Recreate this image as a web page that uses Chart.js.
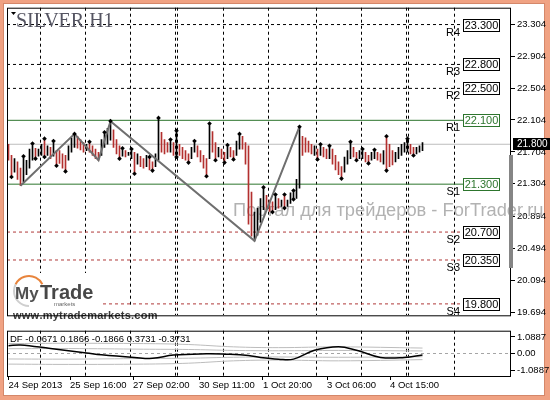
<!DOCTYPE html>
<html>
<head>
<meta charset="utf-8">
<script src="https://cdn.jsdelivr.net/npm/chart.js@4.4.1/dist/chart.umd.min.js"></script>
<style>
  html, body { margin: 0; padding: 0; }
  body { width: 550px; height: 400px; background: #f0a283; position: relative; overflow: hidden; }
  #frame { position: absolute; left: 4px; top: 4px; width: 540px; height: 391px; background: #fff; box-shadow: 0 0 0 1px #d4876a; }
  #main { position: absolute; left: 0; top: 0; }
  #osc { position: absolute; left: 0; top: 323px; }
</style>
</head>
<body>
<div id="frame"></div>
<canvas id="main" width="550" height="323"></canvas>
<canvas id="osc" width="550" height="72"></canvas>
<script>
// H1 bars, one entry per bar (high / low / 1 = up bar, 0 = down bar)
let highs = [21.80,21.66,21.62,21.58,21.50,21.65,21.60,21.74,21.81,21.75,
  21.74,21.80,21.87,21.78,21.76,21.84,21.72,21.72,21.68,21.66,
  21.78,21.88,21.93,21.90,21.86,21.82,21.80,21.83,21.78,21.74,
  21.70,21.86,21.95,22.00,22.09,21.98,21.86,21.78,21.75,21.72,
  21.70,21.74,21.70,21.68,21.65,21.62,21.66,21.64,21.58,21.68,
  22.13,21.95,21.86,21.82,21.86,21.82,21.97,21.80,21.76,21.72,
  21.68,21.76,21.84,21.78,21.72,21.66,21.62,22.06,21.96,21.82,
  21.76,21.74,21.70,21.79,21.76,21.72,21.84,21.93,21.90,21.82,
  21.78,21.20,20.95,21.00,21.12,21.26,21.16,21.10,21.08,21.17,
  21.12,21.10,21.17,21.10,21.19,21.22,21.36,22.02,21.90,21.88,
  21.84,21.80,21.78,21.74,21.80,21.76,21.74,21.78,21.74,21.66,
  21.58,21.52,21.64,21.72,21.83,21.76,21.70,21.72,21.74,21.70,
  21.66,21.70,21.73,21.70,21.68,21.72,21.90,21.80,21.72,21.70,
  21.76,21.80,21.82,21.87,21.80,21.76,21.76,21.78,21.82];
let lows = [21.60,21.39,21.45,21.36,21.28,21.33,21.42,21.50,21.60,21.62,
  21.65,21.66,21.64,21.66,21.62,21.65,21.53,21.56,21.50,21.46,
  21.60,21.70,21.76,21.75,21.73,21.70,21.72,21.70,21.66,21.62,
  21.60,21.66,21.76,21.80,21.85,21.76,21.68,21.62,21.65,21.64,
  21.66,21.62,21.43,21.55,21.52,21.50,21.52,21.48,21.47,21.52,
  21.60,21.70,21.68,21.70,21.70,21.66,21.64,21.66,21.62,21.60,
  21.57,21.62,21.70,21.64,21.58,21.50,21.40,21.62,21.70,21.60,
  21.64,21.62,21.57,21.62,21.64,21.61,21.66,21.74,21.74,21.55,
  20.80,20.65,20.59,20.66,20.82,20.98,20.98,20.96,20.95,20.98,
  21.00,21.02,21.00,21.02,21.06,21.11,21.12,21.25,21.66,21.70,
  21.70,21.68,21.66,21.61,21.66,21.64,21.62,21.62,21.55,21.48,
  21.42,21.37,21.45,21.55,21.62,21.64,21.60,21.62,21.62,21.58,
  21.56,21.60,21.62,21.60,21.58,21.55,21.47,21.52,21.54,21.58,
  21.62,21.66,21.70,21.70,21.68,21.66,21.68,21.70,21.72];
let dirs = [0,0,1,0,0,1,1,1,1,0, 1,1,0,1,0,1,0,0,0,0, 1,1,1,0,0,0,1,0,0,0,
  0,1,1,1,1,0,0,0,1,0, 1,1,0,1,0,0,1,0,0,1, 1,0,0,0,1,0,1,0,0,0,
  0,1,1,0,0,0,0,1,0,0, 1,0,0,1,0,0,1,1,0,0, 0,0,1,1,1,1,0,0,0,1,
  0,1,0,1,1,1,1,1,0,0, 0,0,1,0,1,0,0,1,0,0, 0,0,1,1,1,0,0,1,1,0,
  0,1,1,0,0,1,0,0,0,1, 1,1,1,1,0,0,1,1,1];

// fractals (bar numbers) and zigzag turning points
let fracUp = [5,8,12,15,22,27,32,34,38,41,47,50,54,56,62,67,73,77,85,89,92,95,97,104,107,114,118,122,126,133];
let fracDn = [1,9,12,16,19,37,42,48,56,60,66,69,72,75,88,92,95,103,111,116,120,126,135];
let zzIdx = [4,22,30,34,82,97];
let zzHigh = [0,1,0,1,0,1];

// pivot levels
let levelNames = ['R4','R3','R2','R1','S1','S2','S3','S4'];
let levelValues = [23.3, 22.8, 22.5, 22.1, 21.3, 20.7, 20.35, 19.8];
let lastPrice = 21.8;

// axis ticks
let priceTicks = [23.304, 22.904, 22.504, 22.104, 21.704, 21.304, 20.894, 20.494, 20.094, 19.694];
let timeLabels = ['24 Sep 2013','25 Sep 16:00','27 Sep 02:00','30 Sep 11:00','1 Oct 20:00','3 Oct 06:00','4 Oct 15:00'];
let timeTicks = [0, 20.5, 41.5, 63.5, 84.83, 106.17, 127.17];
let gridTicks = [10.5, 25.83, 40.83, 55.5, 56.17, 71.5, 86.83, 102.5, 117.83, 132.5, 133.17, 148.83];
let oscTicks = [1.0887, 0, -1.0887];

// DF oscillator and its bands
let dfIdx = [0,4,14,26,31,42,48,55,66,72,80,84,90,95,102,110,116,124,132,138];
let dfVal = [0.52,0.57,0.34,0.06,-0.06,-0.23,-0.29,-0.08,0.0,-0.02,-0.10,-0.23,-0.34,-0.34,0.23,0.46,0.23,-0.23,-0.23,-0.0671];
let bandIdx = [0,20,45,60,75,90,110,138];
let bandOuter = [0.66,0.68,0.66,0.60,0.45,0.40,0.45,0.3731];
let bandInner = [0.33,0.34,0.30,0.28,0.22,0.20,0.22,0.1866];

let xMin = -0.5, xMax = 167.5;
let levelEnd = 151.5;
let font = '"Liberation Sans", Arial, sans-serif';
let watermark = 'Портал для трейдеров - ForTrader.ru';

function levelStyle(name) {
  if (name == 'R1' || name == 'S1') return { color: '#2d752d', dash: [] };
  if (name[0] == 'R') return { color: '#000000', dash: [3, 3] };
  return { color: '#b03a3a', dash: [3, 3] };
}

let levelSets = levelNames.map((name, k) => {
  let st = levelStyle(name);
  return {
    type: 'line', order: 4,
    data: [{ x: xMin, y: levelValues[k] }, { x: levelEnd, y: levelValues[k] }],
    borderColor: st.color, borderDash: st.dash, borderWidth: 1, pointRadius: 0
  };
});

let decorMain = {
  id: 'decorMain',
  beforeDatasetsDraw(chart) {
    let ctx = chart.ctx;
    ctx.save();
    ctx.font = '20px ' + font;
    let size = 20 * 311 / ctx.measureText(watermark).width;
    ctx.font = size.toFixed(1) + 'px ' + font;
    ctx.fillStyle = '#b2b2b2';
    ctx.fillText(watermark, 233, 216);
    ctx.restore();
  },
  afterDatasetsDraw(chart) {
    let ctx = chart.ctx;
    let ys = chart.scales.y, xs = chart.scales.x;
    ctx.save();
    // level boxes and names
    let bx = Math.round(xs.getPixelForValue(levelEnd));
    levelNames.forEach((name, k) => {
      let y = Math.round(ys.getPixelForValue(levelValues[k]));
      let col = (name == 'R1' || name == 'S1') ? '#2d752d' : '#000';
      ctx.fillStyle = '#fff';
      ctx.fillRect(bx, y - 5, 36, 11);
      ctx.strokeStyle = col;
      ctx.lineWidth = 1;
      ctx.strokeRect(bx + 0.5, y - 5.5, 36, 12);
      ctx.font = '11px ' + font;
      ctx.fillStyle = col;
      ctx.textAlign = 'center';
      ctx.textBaseline = 'middle';
      ctx.fillText(levelValues[k].toFixed(3), bx + 18.5, y + 0.5);
      ctx.fillStyle = '#000';
      ctx.textAlign = 'right';
      ctx.textBaseline = 'top';
      ctx.fillText(name, bx - 3, y + 2);
    });
    // logo
    ctx.fillStyle = '#fff';
    ctx.fillRect(8, 273, 94, 35);
    ctx.fillRect(8, 307, 152, 14);
    ctx.lineWidth = 2;
    ctx.strokeStyle = '#cfcfcf';
    ctx.beginPath(); ctx.arc(29, 291, 15, 0.5 * Math.PI, 1.15 * Math.PI); ctx.stroke();
    ctx.strokeStyle = '#e8843c';
    ctx.beginPath(); ctx.arc(29, 291, 15, 1.15 * Math.PI, 1.85 * Math.PI); ctx.stroke();
    ctx.textAlign = 'left';
    ctx.textBaseline = 'alphabetic';
    ctx.fillStyle = '#505050';
    ctx.font = 'bold 17px ' + font;
    ctx.fillText('My', 15, 299);
    ctx.font = 'bold 20px ' + font;
    ctx.fillStyle = '#474747';
    ctx.fillText('Trade', 40, 299);
    ctx.font = '6px ' + font;
    ctx.fillStyle = '#666';
    ctx.fillText('markets', 54, 306);
    ctx.font = 'bold 11px ' + font;
    ctx.fillStyle = '#3a3a3a';
    let url = 'www.mytrademarkets.com';
    let extra = (144 - ctx.measureText(url).width) / (url.length - 1);
    let px = 13;
    for (let ch of url) {
      ctx.fillText(ch, px, 319);
      px += ctx.measureText(ch).width + extra;
    }
    ctx.restore();
  },
  afterDraw(chart) {
    let ctx = chart.ctx;
    let a = chart.chartArea;
    let ys = chart.scales.y;
    ctx.save();
    ctx.strokeStyle = '#000';
    ctx.lineWidth = 1;
    ctx.strokeRect(a.left + 0.5, a.top + 0.5, a.right - a.left - 1, a.bottom - a.top);
    // grey bar on the right edge
    ctx.fillStyle = '#858585';
    ctx.fillRect(a.right - 2, 155, 4, 113);
    // last price box
    let py = Math.round(ys.getPixelForValue(lastPrice));
    ctx.fillStyle = '#000';
    ctx.fillRect(a.right + 2, py - 6, 37, 12);
    ctx.fillStyle = '#fff';
    ctx.font = '10px ' + font;
    ctx.textAlign = 'left';
    ctx.textBaseline = 'middle';
    ctx.fillText(lastPrice.toFixed(3), a.right + 6, py + 0.5);
    // title
    ctx.fillStyle = '#000';
    ctx.beginPath(); ctx.moveTo(11, 12); ctx.lineTo(16, 12); ctx.lineTo(13.5, 15); ctx.fill();
    ctx.fillStyle = '#555562';
    ctx.font = '20px "Liberation Serif", serif';
    ctx.textBaseline = 'alphabetic';
    ctx.fillText('SILVER H1', 16, 27);
    ctx.restore();
  }
};

new Chart(document.getElementById('main'), {
  type: 'bar',
  data: {
    datasets: [
      {
        type: 'scatter', order: 0,
        data: fracUp.map(i => ({ x: i, y: highs[i] })).concat(fracDn.map(i => ({ x: i, y: lows[i] }))),
        pointStyle: 'rectRot', pointRadius: 2.3, backgroundColor: '#000', borderWidth: 0
      },
      {
        type: 'line', order: 1,
        data: zzIdx.map((i, k) => ({ x: i, y: zzHigh[k] ? highs[i] : lows[i] })),
        borderColor: '#6f6f6f', borderWidth: 2, pointRadius: 0
      },
      {
        type: 'bar', order: 2,
        data: highs.map((h, i) => ({ x: i, y: [lows[i], h] })),
        backgroundColor: dirs.map(d => d ? '#000000' : '#b3302f'),
        barThickness: 1, borderWidth: 0, grouped: false
      },
      {
        type: 'line', order: 3,
        data: [{ x: xMin, y: lastPrice }, { x: xMax, y: lastPrice }],
        borderColor: '#bdbdbd', borderWidth: 1, pointRadius: 0
      },
      ...levelSets
    ]
  },
  options: {
    responsive: false,
    animation: false,
    layout: { padding: { left: 7, top: 6, right: 0, bottom: 1 } },
    plugins: { legend: { display: false }, tooltip: { enabled: false } },
    scales: {
      x: {
        type: 'linear', min: xMin, max: xMax, offset: false,
        afterBuildTicks: s => { s.ticks = gridTicks.map(v => ({ value: v })); },
        afterFit: s => { s.height = 0; },
        ticks: { display: false },
        grid: { color: '#000', drawTicks: false, offset: false },
        border: { display: false, dash: [3, 3] }
      },
      y: {
        position: 'right',
        min: 19.657, max: 23.511,
        afterBuildTicks: s => { s.ticks = priceTicks.map(v => ({ value: v })); },
        afterFit: s => { s.width = 39; },
        ticks: { callback: v => v.toFixed(3), color: '#000', font: { family: font, size: 9.5 }, padding: 2 },
        grid: { drawOnChartArea: false, tickLength: 4, color: '#000' },
        border: { display: false }
      }
    }
  },
  plugins: [decorMain]
});

let decorOsc = {
  id: 'decorOsc',
  afterDraw(chart) {
    let ctx = chart.ctx;
    let a = chart.chartArea;
    ctx.save();
    ctx.strokeStyle = '#000';
    ctx.lineWidth = 1;
    ctx.strokeRect(a.left + 0.5, a.top + 0.5, a.right - a.left - 1, a.bottom - a.top - 1);
    let n = bandIdx.length - 1;
    let vals = [dfVal[dfVal.length - 1], bandInner[n], -bandInner[n], bandOuter[n], -bandOuter[n]];
    ctx.fillStyle = '#000';
    ctx.font = '9.5px ' + font;
    ctx.textBaseline = 'middle';
    ctx.fillText('DF ' + vals.map(v => v.toFixed(4)).join(' '), 10, a.top + 9);
    ctx.restore();
  }
};

function band(vals, sign) {
  return {
    data: bandIdx.map((x, k) => ({ x: x, y: sign * vals[k] })),
    borderColor: '#bcbcbc', borderWidth: 1, tension: 0.4, pointRadius: 0, order: 1
  };
}

new Chart(document.getElementById('osc'), {
  type: 'line',
  data: {
    datasets: [
      {
        data: dfIdx.map((x, k) => ({ x: x, y: dfVal[k] })),
        borderColor: '#000', borderWidth: 1.5, tension: 0.4, pointRadius: 0, order: 0
      },
      band(bandOuter, 1), band(bandInner, 1), band(bandInner, -1), band(bandOuter, -1)
    ]
  },
  options: {
    responsive: false,
    animation: false,
    layout: { padding: { left: 7, top: 2, right: 0, bottom: 0 } },
    plugins: { legend: { display: false }, tooltip: { enabled: false } },
    scales: {
      xg: {
        type: 'linear', position: 'bottom', min: xMin, max: xMax,
        afterBuildTicks: s => { s.ticks = gridTicks.map(v => ({ value: v })); },
        afterFit: s => { s.height = 0; },
        ticks: { display: false },
        grid: { color: '#000', drawTicks: false },
        border: { display: false, dash: [3, 3] }
      },
      x: {
        type: 'linear', position: 'bottom', min: xMin, max: xMax,
        afterBuildTicks: s => { s.ticks = timeTicks.map(v => ({ value: v })); },
        afterFit: s => { s.height = 18; },
        ticks: {
          callback: (v, i) => timeLabels[i], align: 'start', maxRotation: 0, autoSkip: false,
          color: '#000', font: { family: font, size: 9.5 }, padding: 0
        },
        grid: { drawOnChartArea: false, tickLength: 3, color: '#000' },
        border: { display: false }
      },
      y: {
        position: 'right', min: -1.49, max: 1.49,
        afterBuildTicks: s => { s.ticks = oscTicks.map(v => ({ value: v })); },
        afterFit: s => { s.width = 39; },
        ticks: { callback: v => v === 0 ? '0.00' : v.toFixed(4), color: '#000', font: { family: font, size: 9.5 }, padding: 2 },
        grid: {
          color: c => (c.tick && c.tick.value === 0) ? '#a5a5a5' : 'rgba(0,0,0,0)',
          tickColor: '#000', tickLength: 4
        },
        border: { display: false, dash: [3, 3] }
      }
    }
  },
  plugins: [decorOsc]
});
</script>
</body>
</html>
